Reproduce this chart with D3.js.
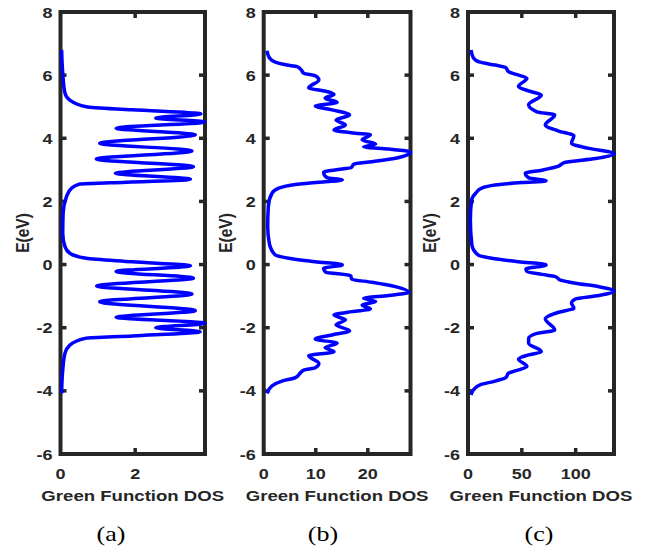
<!DOCTYPE html>
<html>
<head>
<meta charset="utf-8">
<script src="https://d3js.org/d3.v7.min.js"></script>
<style>
  body { margin: 0; background: #fff; }
  text { font-family: "Liberation Sans", Arial, sans-serif; font-weight: bold; fill: #262626; }
  .cap { font-family: "Liberation Serif", "Times New Roman", serif; font-weight: normal; fill: #000; }
</style>
</head>
<body>
<div id="chart"></div>
<script>
// energy axis (eV) shared by all three panels
const eTicks = [8, 6, 4, 2, 0, -2, -4, -6];

// panel (a), top of curve to bottom
const energyA = [6.80, 6.06, 5.43, 5.21, 5.00, 4.90, 4.77, 4.64, 4.52, 4.32, 4.11, 3.84, 3.60, 3.34, 3.10, 2.89, 2.70, 2.59, 2.55, 2.42, 2.15, 1.62, 0.99, 0.57, 0.36, 0.20, 0.09, -0.04, -0.22, -0.43, -0.68, -0.93, -1.18, -1.46, -1.67, -1.86, -2.00, -2.13, -2.26, -2.33, -2.55, -2.81, -3.34, -4.08];
const dosA = [0.03, 0.06, 0.12, 0.25, 0.69, 1.92, 3.76, 2.55, 3.87, 1.49, 3.61, 1.05, 3.52, 0.96, 3.56, 1.47, 3.48, 1.31, 0.52, 0.30, 0.16, 0.07, 0.06, 0.12, 0.25, 0.69, 1.92, 3.48, 1.49, 3.56, 0.97, 3.52, 1.05, 3.61, 1.49, 3.87, 2.55, 3.74, 1.93, 0.69, 0.25, 0.12, 0.06, 0.03];
const ticksA = [0, 2];

// panel (b)
const energyB = [6.77, 6.55, 6.41, 6.32, 6.27, 6.16, 6.06, 5.98, 5.85, 5.60, 5.48, 5.39, 5.27, 5.14, 5.02, 4.90, 4.74, 4.58, 4.42, 4.26, 4.16, 4.11, 3.95, 3.82, 3.73, 3.66, 3.56, 3.37, 3.26, 3.18, 3.07, 3.03, 2.92, 2.75, 2.68, 2.61, 2.52, 2.42, 2.26, 1.83, 1.20, 0.67, 0.30, 0.20, 0.09, -0.01, -0.12, -0.24, -0.35, -0.46, -0.56, -0.70, -0.88, -0.98, -1.07, -1.17, -1.28, -1.41, -1.49, -1.60, -1.75, -1.91, -2.10, -2.23, -2.36, -2.49, -2.63, -2.76, -2.89, -3.13, -3.27, -3.34, -3.44, -3.58, -3.69, -3.84, -4.08];
const dosB = [0.63, 1.08, 2.24, 4.48, 6.4, 7.23, 7.69, 9.92, 10.6, 8.65, 12.2, 13.5, 11.8, 14.1, 9.92, 13.1, 16.5, 13.9, 15.7, 13.5, 17.6, 20.5, 18.9, 21.5, 19.2, 24.0, 28.2, 25.3, 20.8, 17.3, 16.8, 15.1, 11.5, 12.2, 15.1, 10.6, 5.44, 2.88, 1.6, 0.88, 0.77, 1.08, 2.24, 4.8, 9.9, 15.1, 11.5, 11.9, 16.7, 16.9, 20.8, 25.3, 27.9, 24.0, 19.2, 21.5, 18.9, 20.5, 17.0, 13.5, 15.7, 13.9, 16.5, 13.1, 9.9, 14.1, 11.8, 13.5, 8.65, 10.6, 9.9, 7.7, 7.0, 6.1, 3.5, 1.6, 0.63];
const ticksB = [0, 10, 20];

// panel (c)
const energyC = [6.80, 6.55, 6.41, 6.32, 6.24, 6.11, 6.03, 5.90, 5.64, 5.50, 5.37, 5.06, 4.84, 4.74, 4.42, 4.23, 4.08, 3.84, 3.68, 3.52, 3.36, 3.24, 3.10, 2.99, 2.89, 2.75, 2.65, 2.60, 2.52, 2.42, 2.26, 2.05, 1.41, 0.62, 0.30, 0.20, 0.09, -0.01, -0.14, -0.22, -0.31, -0.38, -0.49, -0.59, -0.70, -0.84, -0.98, -1.09, -1.22, -1.38, -1.51, -1.72, -2.07, -2.18, -2.34, -2.49, -2.76, -2.86, -2.99, -3.23, -3.37, -3.44, -3.58, -3.69, -3.81, -3.97, -4.13];
const dosC = [2.8, 5.0, 11.2, 25.2, 35.1, 37.6, 43.8, 54.7, 46.9, 56.3, 68.1, 56.3, 64.0, 80.5, 71.8, 84.2, 98.3, 96.1, 112.2, 135.6, 118.5, 90.5, 82.7, 68.7, 53.2, 56.3, 72.5, 50.1, 25.2, 12.7, 7.1, 3.4, 2.2, 3.6, 9.6, 22.1, 46.9, 72.5, 53.8, 54.7, 68.7, 81.1, 85.8, 99.8, 121.6, 135.6, 121.6, 99.8, 96.1, 98.3, 84.2, 71.8, 80.5, 64.0, 56.3, 56.3, 68.1, 56.3, 46.9, 54.7, 43.8, 37.6, 35.1, 25.2, 11.2, 5.0, 2.8];
const ticksC = [0, 50, 100];

const captions = ["(a)", "(b)", "(c)"];

const W = 651, H = 554;
const yTop = 12, yBot = 454;
const axisColor = "#262626", lineColor = "#0000ff";
const sx = 1.2; // text in the picture is stretched horizontally

const panels = [
    {e: energyA, d: dosA, ticks: ticksA, xmax: 3.87, x0: 60.5, x1: 205, cap: captions[0], capX: 111},
    {e: energyB, d: dosB, ticks: ticksB, xmax: 28.2, x0: 263.7, x1: 410.5, cap: captions[1], capX: 323},
    {e: energyC, d: dosC, ticks: ticksC, xmax: 135.6, x0: 468, x1: 614, cap: captions[2], capX: 539}
];

const svg = d3.select("#chart").append("svg")
    .attr("width", W)
    .attr("height", H);

const y = d3.scaleLinear().domain([-6, 8]).range([yBot, yTop]);

// stretched text helper
function label(g, tx, ty, txt, anchor, cls, rot, stretch) {
    return g.append("text")
        .attr("class", cls || null)
        .attr("transform", `translate(${tx},${ty}) scale(${stretch || sx},1)` + (rot ? ` rotate(${rot})` : ""))
        .attr("text-anchor", anchor)
        .text(txt);
}

panels.forEach(p => {
    const x = d3.scaleLinear().domain([0, p.xmax]).range([p.x0, p.x1]);
    const g = svg.append("g");
    const tl = 6;

    // ticks pointing inward, on all four sides
    p.ticks.filter(t => t > 0).forEach(t => {
        g.append("line").attr("x1", x(t)).attr("x2", x(t)).attr("y1", yBot).attr("y2", yBot - tl)
            .attr("stroke", axisColor).attr("stroke-width", 3.5);
        g.append("line").attr("x1", x(t)).attr("x2", x(t)).attr("y1", yTop).attr("y2", yTop + tl)
            .attr("stroke", axisColor).attr("stroke-width", 3.5);
    });
    eTicks.filter(t => t > -6 && t < 8).forEach(t => {
        g.append("line").attr("x1", p.x0).attr("x2", p.x0 + tl).attr("y1", y(t)).attr("y2", y(t))
            .attr("stroke", axisColor).attr("stroke-width", 3.5);
        g.append("line").attr("x1", p.x1).attr("x2", p.x1 - tl).attr("y1", y(t)).attr("y2", y(t))
            .attr("stroke", axisColor).attr("stroke-width", 3.5);
    });

    // box
    g.append("rect")
        .attr("x", p.x0).attr("y", yTop)
        .attr("width", p.x1 - p.x0).attr("height", yBot - yTop)
        .attr("fill", "none").attr("stroke", axisColor).attr("stroke-width", 4);

    // tick labels
    eTicks.forEach(t => {
        label(g, p.x0 - 8, y(t) + 5.5, t, "end").style("font-size", "15px");
    });
    p.ticks.forEach(t => {
        label(g, x(t), 478.5, t, "middle").style("font-size", "15px");
    });

    // axis titles
    label(g, (p.x0 + p.x1) / 2, 501, "Green Function DOS", "middle").style("font-size", "15.5px");
    label(g, p.x0 - 32, (yTop + yBot) / 2, "E(eV)", "middle", null, -90).style("font-size", "15.5px");

    // DOS curve, drawn over the box
    const pts = p.e.map((e, i) => [p.d[i], e]);
    const line = d3.line()
        .x(d => x(d[0]))
        .y(d => y(d[1]))
        .curve(d3.curveMonotoneY);
    g.append("path")
        .datum(pts)
        .attr("d", line)
        .attr("fill", "none")
        .attr("stroke", lineColor)
        .attr("stroke-width", 3.5)
        .attr("stroke-linejoin", "round");

    // panel caption under the axis title
    label(g, p.capX, 541, p.cap, "middle", "cap", null, 1.3).style("font-size", "20px");
});
</script>
</body>
</html>
